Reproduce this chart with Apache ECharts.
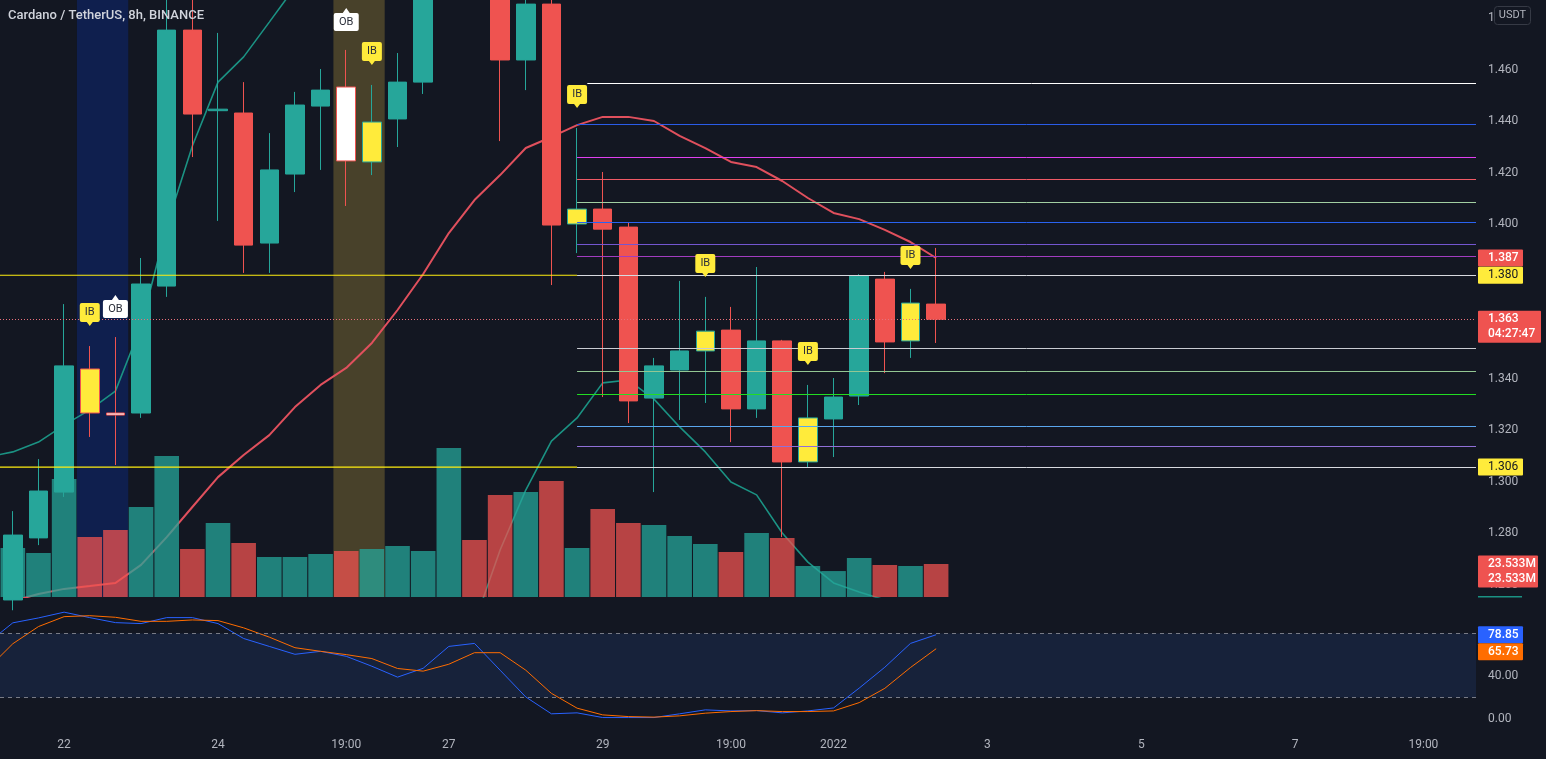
<!DOCTYPE html>
<html><head><meta charset="utf-8">
<script src="https://cdn.jsdelivr.net/npm/echarts@6/dist/echarts.min.js"></script>
<style>html,body{margin:0;padding:0;background:#131722;overflow:hidden}#c{width:1546px;height:759px}</style>
</head><body><div id="c"></div><script>
// ---------- DATA ----------
const times = ['2021-12-21 11:00','2021-12-21 19:00','2021-12-22 03:00','2021-12-22 11:00','2021-12-22 19:00',
 '2021-12-23 03:00','2021-12-23 11:00','2021-12-23 19:00','2021-12-24 03:00','2021-12-24 11:00','2021-12-24 19:00',
 '2021-12-25 03:00','2021-12-25 11:00','2021-12-25 19:00','2021-12-26 03:00','2021-12-26 11:00','2021-12-26 19:00',
 '2021-12-27 03:00','2021-12-27 11:00','2021-12-27 19:00','2021-12-28 03:00','2021-12-28 11:00','2021-12-28 19:00',
 '2021-12-29 03:00','2021-12-29 11:00','2021-12-29 19:00','2021-12-30 03:00','2021-12-30 11:00','2021-12-30 19:00',
 '2021-12-31 03:00','2021-12-31 11:00','2021-12-31 19:00','2022-01-01 03:00','2022-01-01 11:00','2022-01-01 19:00',
 '2022-01-02 03:00','2022-01-02 11:00'];
const open  = [1.2540,1.2781,1.2959,1.3437,1.3266,1.3266,1.3759,1.4753,1.4440,1.4431,1.3926,1.4194,1.4458,1.4532,1.4241,1.4408,1.4551,1.5000,1.5550,1.5250,1.4637,1.4854,1.4000,1.4058,1.3988,1.3324,1.3433,1.3507,1.3588,1.3282,1.3546,1.3076,1.3243,1.3332,1.3786,1.3546,1.3689];
const close = [1.2792,1.2963,1.3449,1.3266,1.3258,1.3767,1.4753,1.4427,1.4446,1.3918,1.4210,1.4462,1.4520,1.4245,1.4396,1.4551,1.5000,1.5550,1.5250,1.4637,1.4854,1.3996,1.4058,1.3980,1.3313,1.3449,1.3507,1.3584,1.3282,1.3546,1.3076,1.3247,1.3328,1.3798,1.3542,1.3693,1.3630];
const high  = [1.2885,1.3087,1.3689,1.3526,1.3561,1.3868,1.5000,1.4920,1.4742,1.4551,1.4353,1.4513,1.4602,1.4676,1.4540,1.4664,1.5100,1.5750,1.5800,1.5350,1.5000,1.4950,1.4373,1.4202,1.4004,1.3480,1.3779,1.3717,1.3678,1.3833,1.3550,1.3375,1.3402,1.3805,1.3814,1.3748,1.3907];
const low   = [1.2500,1.2753,1.2940,1.3173,1.3064,1.3247,1.3717,1.4260,1.4012,1.3810,1.3810,1.4124,1.4210,1.4070,1.4190,1.4299,1.4505,1.4950,1.5100,1.4322,1.4520,1.3763,1.3887,1.3328,1.3227,1.2959,1.3239,1.3305,1.3153,1.3247,1.2784,1.3056,1.3095,1.3297,1.3421,1.3480,1.3538];
const volumeM = [34.9,31.4,84.1,42.8,47.8,64.2,100.5,34.2,52.8,38.5,28.5,28.5,30.7,32.8,34.2,36.4,32.8,106.3,40.6,72.7,74.9,82.7,34.9,62.8,52.8,51.3,43.5,37.8,32.1,45.6,42.1,22.1,18.5,27.8,22.8,22.1,23.533];
// candle marks: Y = inside bar (yellow), W = order block (white)
const special = ['','','','Y','W','','','','','','','','','W','Y','','','','','','','','Y','','','','','Y','','','','Y','','','','Y',''];
const ibIdx = [3,14,22,27,31,35];
const obIdx = [4,13];
// line series start one bar before the first visible candle (index -1)
const emaSlow = [1.2520,1.2536,1.2563,1.2583,1.2594,1.2606,1.2676,1.2784,1.2901,1.3017,1.3103,1.3180,1.3289,1.3375,1.3441,1.3538,1.3666,1.3806,1.3965,1.4093,1.4190,1.4295,1.4338,1.4384,1.4416,1.4416,1.4400,1.4342,1.4295,1.4241,1.4221,1.4167,1.4101,1.4043,1.4019,1.3977,1.3930,1.3868];
const emaFast = [1.3095,1.3115,1.3153,1.3219,1.3278,1.3351,1.3604,1.3992,1.4303,1.4551,1.4649,1.4784,1.4920,1.5100,null,null,null,null,null,1.2450,1.2734,1.2967,1.3157,1.3247,1.3383,1.3394,1.3320,1.3212,1.3115,1.2998,1.2948,1.2800,1.2687,1.2606,1.2571,1.2540,1.2520,1.2509];
const stochK = [70.7,90.0,94.6,100.0,94.9,90.2,89.3,94.9,94.9,89.3,75.3,67.9,60.5,63.3,58.6,49.3,39.1,47.4,67.9,70.7,45.6,20.5,4.7,5.6,1.2,1.2,1.2,4.7,8.4,7.4,7.7,5.6,7.4,10.2,28.8,48.4,70.7,78.85];
const stochD = [46.5,70.4,86.5,95.8,96.7,95.2,91.4,91.4,92.7,92.1,85.3,76.6,66.7,63.3,60.2,56.5,47.2,44.7,51.2,62.0,62.0,45.6,23.9,10.0,3.7,2.1,1.6,2.8,5.3,6.8,7.7,6.8,6.8,7.4,15.2,28.6,48.1,65.73];
// horizontal levels drawn from the IB candle (index 22) to the right
const levelStart = 22;
const levelPrices = [1.45456,1.43864,1.42583,1.41728,1.40835,1.40058,1.39204,1.38738,1.38010,1.35165,1.34272,1.33379,1.32136,1.31360,1.30560];
const levelColors = ['#ffffff','#2a5ce8','#e040f0','#f05a66','#a2cfa2','#2a63f0','#7456d0','#a23cc0','#d8dae0','#c9ccd2','#93c793','#22dd22','#5aa6ee','#9070d8','#d8dae0'];
const supportLevels = [1.38010, 1.30560];   // yellow lines left of the level block
const blueBand = [2.5, 4.5], oliveBand = [12.5, 14.5];
const xTickIdx  = [2,8,13,17,23,28,32,38,44,50,55];
const xTickText = ['22','24','19:00','27','29','19:00','2022','3','5','7','19:00'];
const priceTicks = [1.26,1.28,1.30,1.32,1.34,1.36,1.38,1.40,1.42,1.44,1.46,1.48];
const stochTicks = [0,40,80];
const stochBand = [20, 80];
const countdown = '04:27:47';

// ---------- CHART ----------
const UP='#26a69a', DN='#ef5350', YEL='#ffeb3b', LINE_YEL='#ffee10';
const FONT='Roboto';
const XMIN=-0.5, XMAX=57.05;
const chart = echarts.init(document.getElementById('c'));

const candleData = open.map((o,i)=>{
  const c=close[i], bull=c>=o;
  const item={value:[i,o,c,low[i],high[i]]};
  if(special[i]==='Y') item.itemStyle={color:YEL,color0:YEL,borderColor:bull?UP:DN,borderColor0:bull?UP:DN};
  if(special[i]==='W') item.itemStyle={color:'#ffffff',color0:'#ffffff',borderColor:DN,borderColor0:DN};
  return item;
});
const volData = volumeM.map((v,i)=>({value:[i,v],itemStyle:{color: close[i]>=open[i]?'rgba(38,166,154,0.75)':'rgba(239,83,80,0.75)'}}));
const lineData = arr => arr.map((v,k)=>[k-1,v]);
const lastClose = close[close.length-1];

const IB_PATH='path://M2,0 H18 Q20,0 20,2 V17 Q20,19 18,19 H13 L10,23 L7,19 H2 Q0,19 0,17 V2 Q0,0 2,0 Z';
const OB_PATH='path://M0,7 Q0,5 2,5 H9 L12.5,0 L16,5 H23 Q25,5 25,7 V21 Q25,23 23,23 H2 Q0,23 0,21 V7 Z';
const tagPoints = ibIdx.map(i=>({coord:[i,high[i]],symbol:IB_PATH,symbolSize:[20,23],symbolOffset:[0,-31.5],
    itemStyle:{color:YEL},label:{show:true,formatter:'IB',color:'#2a2e39',fontSize:11,fontFamily:FONT,offset:[0,-2]}}))
  .concat(obIdx.map(i=>({coord:[i,high[i]],symbol:OB_PATH,symbolSize:[25,23],symbolOffset:[0,-30.5],
    itemStyle:{color:'#ffffff'},label:{show:true,formatter:'OB',color:'#2a2e39',fontSize:11,fontFamily:FONT,offset:[0,2.5]}})));

const levelLines = levelPrices.map((p,k)=>[{coord:[k===0?levelStart+0.4:levelStart,p],lineStyle:{color:levelColors[k],width:1,type:'solid'}},{coord:[XMAX,p]}]);
const supportSeries = supportLevels.map((p,k)=>({name:'support'+k,type:'line',xAxisIndex:0,yAxisIndex:0,z:10,silent:true,
  data:[[XMIN,p],[levelStart,p]],showSymbol:false,symbol:'none',lineStyle:{color:LINE_YEL,width:1.2},itemStyle:{color:LINE_YEL}}));

const option = {
  backgroundColor:'#131722',
  animation:false,
  grid:[{left:0,top:0,width:1476,height:597},{left:0,top:600,width:1476,height:135}],
  xAxis:[
    {type:'value',gridIndex:0,min:XMIN,max:XMAX,show:false},
    {type:'value',gridIndex:1,min:XMIN,max:XMAX,splitLine:{show:false},axisLine:{show:false},axisTick:{show:false},
     axisLabel:{customValues:xTickIdx,formatter:v=>{const k=xTickIdx.indexOf(Math.round(v));return k>=0?xTickText[k]:'';},
       color:'#b2b5be',fontSize:12,fontFamily:FONT,margin:4}}
  ],
  yAxis:[
    {type:'value',gridIndex:0,position:'right',min:1.25515,max:1.48699,splitLine:{show:false},axisLine:{show:false},axisTick:{show:false},
     axisLabel:{customValues:priceTicks,formatter:v=>v.toFixed(3),color:'#b2b5be',fontSize:12,fontFamily:FONT,margin:12}},
    {type:'value',gridIndex:0,min:0,max:425.7,show:false},
    {type:'value',gridIndex:1,position:'right',min:-15.16,max:111.41,splitLine:{show:false},axisLine:{show:false},axisTick:{show:false},
     axisLabel:{customValues:stochTicks,formatter:v=>v.toFixed(2),color:'#b2b5be',fontSize:12,fontFamily:FONT,margin:12}}
  ],
  series:[
    {name:'bands',type:'line',xAxisIndex:0,yAxisIndex:0,data:[],z:0,silent:true,
     markArea:{silent:true,data:[
       [{xAxis:blueBand[0],itemStyle:{color:'#0f1f4e'}},{xAxis:blueBand[1]}],
       [{xAxis:oliveBand[0],itemStyle:{color:'#48412a'}},{xAxis:oliveBand[1]}]]}},
    {name:'levels',type:'line',xAxisIndex:0,yAxisIndex:0,data:[],z:1,silent:true,
     markLine:{silent:true,symbol:'none',label:{show:false},data:levelLines}},
    {name:'EMA slow',type:'line',xAxisIndex:0,yAxisIndex:0,data:lineData(emaSlow),showSymbol:false,z:2,
     lineStyle:{color:'#e0505d',width:2}},
    {name:'EMA fast',type:'line',xAxisIndex:0,yAxisIndex:0,data:lineData(emaFast),showSymbol:false,connectNulls:false,z:2,
     lineStyle:{color:'#1b9283',width:1.6}},
    {name:'Volume',type:'bar',xAxisIndex:0,yAxisIndex:1,data:volData,barWidth:24.6,z:3},
    {name:'ADAUSDT',type:'candlestick',xAxisIndex:0,yAxisIndex:0,data:candleData,encode:{x:0,y:[1,2,3,4]},barWidth:19,z:4,
     itemStyle:{color:UP,color0:DN,borderColor:UP,borderColor0:DN,borderWidth:1},
     markPoint:{silent:true,data:tagPoints}},
    ...supportSeries,
    {name:'last price',type:'line',xAxisIndex:0,yAxisIndex:0,data:[],z:5,silent:true,
     markLine:{silent:true,symbol:'none',label:{show:false},
       data:[[{coord:[XMIN,lastClose],lineStyle:{color:'#e8707a',type:[1,2],width:1}},{coord:[XMAX,lastClose]}]]}},
    {name:'%K',type:'line',xAxisIndex:1,yAxisIndex:2,data:lineData(stochK),showSymbol:false,z:3,lineStyle:{color:'#2962ff',width:1},
     markArea:{silent:true,data:[[{yAxis:stochBand[0],itemStyle:{color:'#17223a'}},{yAxis:stochBand[1]}]]},
     markLine:{silent:true,symbol:'none',label:{show:false},lineStyle:{color:'#787b86',type:[4,4],width:1},data:[{yAxis:stochBand[1]},{yAxis:stochBand[0]}]}},
    {name:'%D',type:'line',xAxisIndex:1,yAxisIndex:2,data:lineData(stochD),showSymbol:false,z:3,lineStyle:{color:'#ff6d00',width:1}}
  ]
};
chart.setOption(option);

// ---------- right-side value tags ----------
const lastVol = volumeM[volumeM.length-1];
const tags = [
  {axis:0,v:emaSlow[emaSlow.length-1],lines:[emaSlow[emaSlow.length-1].toFixed(3)],bg:DN,fg:'#ffffff',w:45,bold:true},
  {axis:0,v:supportLevels[0],lines:['1.380'],bg:YEL,fg:'#131722',w:45},
  {axis:0,v:lastClose,lines:[lastClose.toFixed(3),countdown],bg:DN,fg:'#ffffff',w:63,bold:true},
  {axis:0,v:supportLevels[1],lines:['1.306'],bg:YEL,fg:'#131722',w:45},
  {axis:1,v:lastVol,lines:[lastVol.toFixed(3)+'M',lastVol.toFixed(3)+'M'],bg:DN,fg:'#ffffff',w:60,bold:true},
  {axis:2,v:stochK[stochK.length-1],lines:[stochK[stochK.length-1].toFixed(2)],bg:'#2962ff',fg:'#ffffff',w:45,bold:true},
  {axis:2,v:stochD[stochD.length-1],lines:[stochD[stochD.length-1].toFixed(2)],bg:'#ff6d00',fg:'#ffffff',w:45,bold:true}
];
const graphics = [
  {type:'text',left:8,top:9,z:100,style:{text:'Cardano / TetherUS, 8h, BINANCE',fill:'#d1d4dc',font:'500 13px '+FONT}},
  {type:'rect',z:100,shape:{x:1494.5,y:6.5,width:36,height:18,r:3},style:{fill:'#131722',stroke:'#363a45',lineWidth:1}},
  {type:'text',z:101,x:1512.5,y:15.5,style:{text:'USDT',fill:'#b2b5be',font:'11px '+FONT,align:'center',verticalAlign:'middle',textAlign:'center',textVerticalAlign:'middle'}},
  {type:'rect',z:100,shape:{x:1478,y:596,width:44,height:1.5},style:{fill:'#1b9283'}}
];
let prevBottom=-1e9, prevAxis=-1;
tags.forEach(t=>{
  const y = chart.convertToPixel({yAxisIndex:t.axis}, t.v);
  const h = 17 + 15*(t.lines.length-1);
  let top = y - 8.5;
  if(prevAxis===t.axis && top < prevBottom) top = prevBottom;
  prevBottom = top + h; prevAxis = t.axis;
  graphics.push({type:'rect',z:100,shape:{x:1478,y:top,width:t.w,height:h,r:1},style:{fill:t.bg}});
  t.lines.forEach((s,j)=>graphics.push({type:'text',z:101,x:1488,y:top+8.5+15*j,
    style:{text:s,fill:t.fg,font:(t.bold?'500 ':'')+'12px '+FONT,align:'left',verticalAlign:'middle',textAlign:'left',textVerticalAlign:'middle'}}));
});
chart.setOption({graphic:graphics});
</script></body></html>
